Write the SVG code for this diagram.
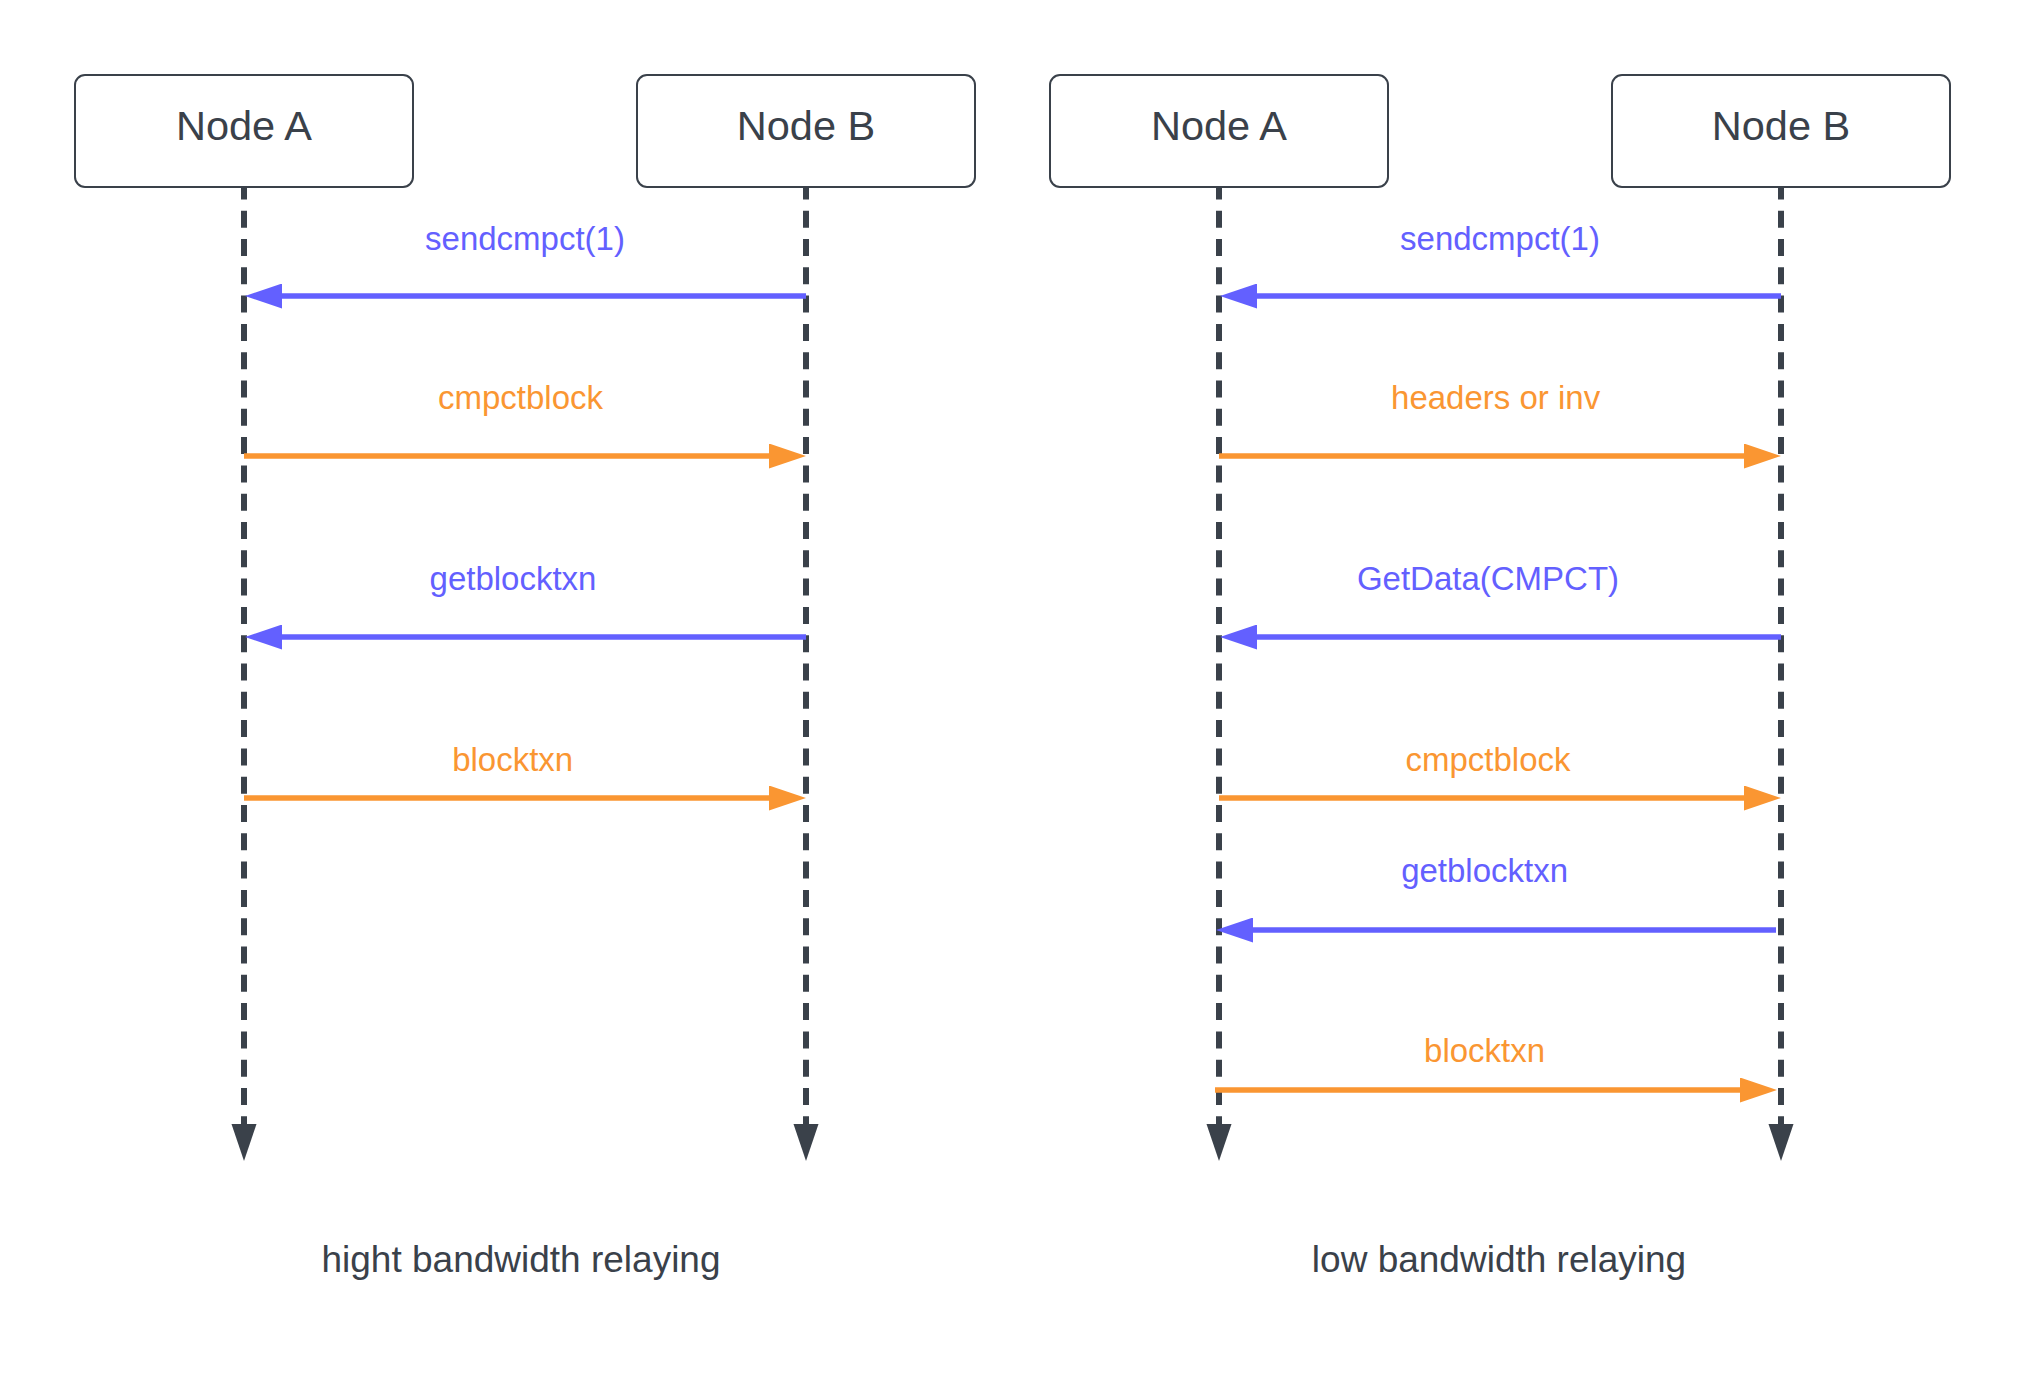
<svg xmlns="http://www.w3.org/2000/svg" width="2025" height="1397" viewBox="0 0 2025 1397">
  <style>
    .box { fill: #ffffff; stroke: #3A414A; stroke-width: 2; }
    .nlabel { font-family: "Liberation Sans", Arial, sans-serif; font-size: 41.5px; fill: #3A414A; text-anchor: middle; }
    .life { stroke: #3A414A; stroke-width: 6; stroke-dasharray: 17 11.3; stroke-dashoffset: 4.6; fill: none; }
    .lifehead { fill: #3A414A; }
    .blue { stroke: #6360FF; stroke-width: 5.5; fill: none; marker-end: url(#ab); }
    .orange { stroke: #FA9632; stroke-width: 5.5; fill: none; marker-end: url(#ao); }
    .tb { font-family: "Liberation Sans", Arial, sans-serif; font-size: 33px; fill: #6360FF; text-anchor: middle; }
    .to { font-family: "Liberation Sans", Arial, sans-serif; font-size: 33px; fill: #FA9632; text-anchor: middle; }
    .cap { font-family: "Liberation Sans", Arial, sans-serif; font-size: 37px; fill: #3A414A; text-anchor: middle; }
  </style>
  <defs>
    <marker id="ab" markerUnits="userSpaceOnUse" markerWidth="37" markerHeight="25" refX="7" refY="12.5" orient="auto" viewBox="0 0 37 25">
      <path d="M0,0 L37,12.5 L0,25 Z" fill="#6360FF"/>
    </marker>
    <marker id="ao" markerUnits="userSpaceOnUse" markerWidth="37" markerHeight="25" refX="7" refY="12.5" orient="auto" viewBox="0 0 37 25">
      <path d="M0,0 L37,12.5 L0,25 Z" fill="#FA9632"/>
    </marker>
    <path id="lh" d="M-12.5,0 L12.5,0 L0,37 Z"/>
  </defs>
  <rect width="2025" height="1397" fill="#ffffff"/>

  <g id="lifelines">
    <line class="life" x1="244" y1="187" x2="244" y2="1125"/>
    <line class="life" x1="806" y1="187" x2="806" y2="1125"/>
    <line class="life" x1="1219" y1="187" x2="1219" y2="1125"/>
    <line class="life" x1="1781" y1="187" x2="1781" y2="1125"/>
    <use href="#lh" class="lifehead" x="244" y="1124"/>
    <use href="#lh" class="lifehead" x="806" y="1124"/>
    <use href="#lh" class="lifehead" x="1219" y="1124"/>
    <use href="#lh" class="lifehead" x="1781" y="1124"/>
  </g>

  <g id="left-node-a">
    <rect class="box" x="75" y="75" width="338" height="112" rx="10"/>
    <text class="nlabel" x="244" y="139.5">Node A</text>
  </g>
  <g id="left-node-b">
    <rect class="box" x="637" y="75" width="338" height="112" rx="10"/>
    <text class="nlabel" x="806" y="139.5">Node B</text>
  </g>
  <g id="right-node-a">
    <rect class="box" x="1050" y="75" width="338" height="112" rx="10"/>
    <text class="nlabel" x="1219" y="139.5">Node A</text>
  </g>
  <g id="right-node-b">
    <rect class="box" x="1612" y="75" width="338" height="112" rx="10"/>
    <text class="nlabel" x="1781" y="139.5">Node B</text>
  </g>

  <g id="connectors">
    <line class="blue" x1="806" y1="296" x2="275" y2="296"/>
    <line class="orange" x1="244" y1="456" x2="776" y2="456"/>
    <line class="blue" x1="806" y1="637" x2="275" y2="637"/>
    <line class="orange" x1="244" y1="798" x2="776" y2="798"/>

    <line class="blue" x1="1781" y1="296" x2="1250" y2="296"/>
    <line class="orange" x1="1219" y1="456" x2="1751" y2="456"/>
    <line class="blue" x1="1781" y1="637" x2="1250" y2="637"/>
    <line class="orange" x1="1219" y1="798" x2="1751" y2="798"/>
    <line class="blue" x1="1776" y1="930" x2="1246" y2="930"/>
    <line class="orange" x1="1215" y1="1090" x2="1747" y2="1090"/>
  </g>

  <g id="labels">
    <text class="tb" x="525" y="250">sendcmpct(1)</text>
    <text class="to" x="520.5" y="409">cmpctblock</text>
    <text class="tb" x="513" y="590">getblocktxn</text>
    <text class="to" x="512.7" y="771">blocktxn</text>

    <text class="tb" x="1500" y="250">sendcmpct(1)</text>
    <text class="to" x="1495.6" y="409">headers or inv</text>
    <text class="tb" x="1488" y="590">GetData(CMPCT)</text>
    <text class="to" x="1488" y="771">cmpctblock</text>
    <text class="tb" x="1484.6" y="882">getblocktxn</text>
    <text class="to" x="1484.6" y="1062">blocktxn</text>

    <text class="cap" x="521" y="1272">hight bandwidth relaying</text>
    <text class="cap" x="1499" y="1272">low bandwidth relaying</text>
  </g>
</svg>
